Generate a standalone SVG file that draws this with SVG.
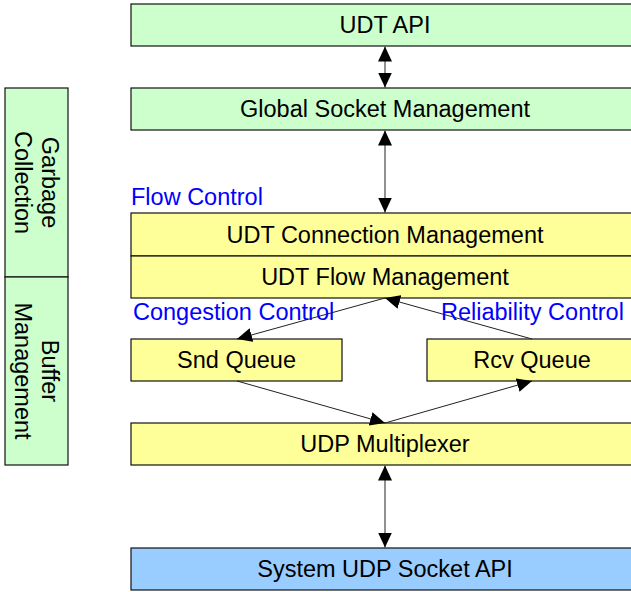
<svg xmlns="http://www.w3.org/2000/svg" width="631" height="592" viewBox="0 0 631 592">
<style>
.box{stroke:#111;stroke-width:1.2}
.g{fill:#CCFFCC}
.y{fill:#FFFF99}
.b{fill:#99CCFF}
.t{font-family:"Liberation Sans",Arial,sans-serif;font-size:23.5px;fill:#000;text-anchor:middle}
.lbl{font-family:"Liberation Sans",Arial,sans-serif;font-size:23.5px;fill:#0000FF}
.c{stroke:#222;stroke-width:1;fill:none}
</style>
<defs>
<marker id="ah" markerUnits="userSpaceOnUse" markerWidth="15" markerHeight="14" refX="15" refY="7" orient="auto-start-reverse" viewBox="0 0 15 14">
<path d="M0,0 L15,7 L0,14 Z" fill="#000"/>
</marker>
</defs>
<rect width="631" height="592" fill="#fff"/>

<g id="gc">
<rect class="box g" x="5" y="88" width="63" height="189"/>
<text class="t" transform="translate(36.5,182.5) rotate(90)"><tspan x="0" y="-5.5">Garbage</tspan><tspan x="0" y="21.5">Collection</tspan></text>
</g>
<g id="bm">
<rect class="box g" x="5" y="277" width="63" height="188"/>
<text class="t" transform="translate(36.5,371) rotate(90)"><tspan x="0" y="-5.5">Buffer</tspan><tspan x="0" y="21.5">Management</tspan></text>
</g>

<g id="udtapi">
<rect class="box g" x="131" y="4" width="508" height="42"/>
<text class="t" x="385" y="33">UDT API</text>
</g>
<g id="gsm">
<rect class="box g" x="131" y="88" width="508" height="42"/>
<text class="t" x="385" y="117">Global Socket Management</text>
</g>
<g id="flowcontrol">
<text class="lbl" x="131" y="205">Flow Control</text>
</g>
<g id="ucm">
<rect class="box y" x="131" y="213" width="508" height="43"/>
<text class="t" x="385" y="243">UDT Connection Management</text>
</g>
<g id="ufm">
<rect class="box y" x="131" y="256" width="508" height="42"/>
<text class="t" x="385" y="285">UDT Flow Management</text>
</g>
<g id="snd">
<rect class="box y" x="131" y="339" width="211" height="42"/>
<text class="t" x="236.5" y="368">Snd Queue</text>
</g>
<g id="rcv">
<rect class="box y" x="427" y="339" width="210" height="42"/>
<text class="t" x="532" y="368">Rcv Queue</text>
</g>
<g id="mux">
<rect class="box y" x="131" y="423" width="508" height="42"/>
<text class="t" x="385" y="452">UDP Multiplexer</text>
</g>
<g id="sys">
<rect class="box b" x="131" y="548" width="508" height="42"/>
<text class="t" x="385" y="577">System UDP Socket API</text>
</g>

<g id="connectors">
<line class="c" x1="385" y1="46.5" x2="385" y2="87.5" marker-start="url(#ah)" marker-end="url(#ah)"/>
<line class="c" x1="385" y1="130.5" x2="385" y2="212.5" marker-start="url(#ah)" marker-end="url(#ah)"/>
<line class="c" x1="385" y1="298" x2="237" y2="339" marker-end="url(#ah)"/>
<line class="c" x1="532" y1="339" x2="385" y2="298" marker-end="url(#ah)"/>
<line class="c" x1="237" y1="381" x2="385" y2="423" marker-end="url(#ah)"/>
<line class="c" x1="385" y1="423" x2="532" y2="381" marker-end="url(#ah)"/>
<line class="c" x1="385" y1="465.5" x2="385" y2="547.5" marker-start="url(#ah)" marker-end="url(#ah)"/>
</g>

<g id="labels">
<text class="lbl" x="133" y="320">Congestion Control</text>
<text class="lbl" x="441" y="320">Reliability Control</text>
</g>
</svg>
